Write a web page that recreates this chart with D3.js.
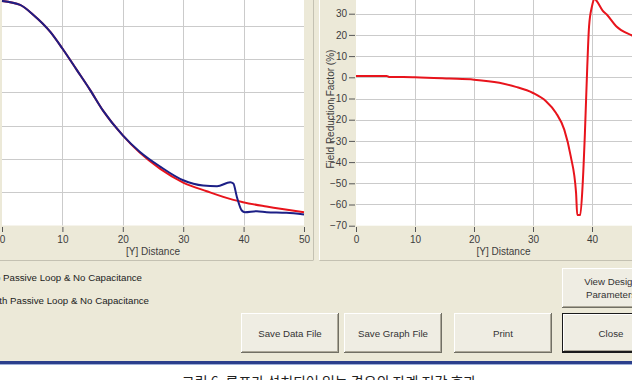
<!DOCTYPE html>
<html>
<head>
<meta charset="utf-8">
<script src="https://cdn.jsdelivr.net/npm/d3@7"></script>
<style>
  body { margin: 0; background: #ece9d8; overflow: hidden; }
  text { font-family: "Liberation Sans", Arial, sans-serif; }
  .tick text { fill: #3c3c3c; font-size: 10px; }
  .tick line { stroke: #555; }
</style>
</head>
<body>
<div id="app"></div>
<script>
// Set values for SVG wrapper
var svgWidth = 632;
var svgHeight = 380;

// ---- data ----
// left plot: field vs [Y] distance (left axis is off-screen)
var noLoopX = [0, 3, 5.2, 8, 10, 12.4, 14.6, 16.7, 20, 22.8, 26.2, 30, 33.9, 38.3, 39.9, 43.8, 50];
var noLoopY = [6.75, 6.63, 6.33, 5.82, 5.32, 4.67, 4.07, 3.46, 2.71, 2.19, 1.70, 1.29, 1.03, 0.77, 0.70, 0.57, 0.40];

var withLoopX = [0, 3, 5.2, 8, 10, 12.4, 14.6, 16.7, 20, 22.8, 26.2, 30, 33.3, 35.6, 37.8, 38.3, 38.9, 39.7, 40.2, 42.2, 43.8, 47.1, 50];
var withLoopY = [6.75, 6.63, 6.33, 5.82, 5.32, 4.67, 4.07, 3.46, 2.71, 2.22, 1.77, 1.36, 1.20, 1.18, 1.30, 1.26, 0.85, 0.45, 0.40, 0.43, 0.40, 0.38, 0.33];

// right plot: field reduction factor (%)
var frfX = [0, 5.2, 5.6, 10, 15.8, 20, 24.3, 27.1, 30, 32.2, 33.9, 35.3, 36.4, 37.3, 37.5, 38.0, 38.4, 38.8, 39.2, 39.5, 40.0, 40.4, 40.8, 41.8, 42.5, 44.1, 46.8, 48.5, 50];
var frfY = [0.6, 0.6, 0.2, 0, -0.6, -1.1, -2.6, -4.5, -7.4, -11.3, -16.8, -24.7, -37.3, -54.5, -65, -65, -51.4, -26.2, 5.2, 24, 33.5, 37, 36, 31.5, 29.6, 24.1, 19.7, 17.5, 16];

var xTicks = [0, 10, 20, 30, 40, 50];
var leftYTicks = [0, 1, 2, 3, 4, 5, 6, 7];
var rightYTicks = [-70, -60, -50, -40, -30, -20, -10, 0, 10, 20, 30, 40];

var legendLabels = ["No Passive Loop & No Capacitance", "With Passive Loop & No Capacitance"];
var buttonLabels = ["Save Data File", "Save Graph File", "Print", "Close"];
var caption = "그림 6. 루프가 설치되어 있는 경우의 자계 저감 효과";

var red = "#e8141c";
var blue = "#1c1f86";

var svg = d3.select("#app")
  .append("svg")
  .attr("width", svgWidth)
  .attr("height", svgHeight);

// window background
svg.append("rect")
  .attr("width", svgWidth)
  .attr("height", svgHeight)
  .attr("fill", "#ece9d8");

// panel frames
svg.append("line").attr("x1", 313.5).attr("x2", 313.5).attr("y1", 0).attr("y2", 260).attr("stroke", "#c4c1b2");
svg.append("line").attr("x1", 0).attr("x2", 313.5).attr("y1", 260.5).attr("y2", 260.5).attr("stroke", "#c4c1b2");
svg.append("line").attr("x1", 319.5).attr("x2", 319.5).attr("y1", 0).attr("y2", 260).attr("stroke", "#ffffff");
svg.append("line").attr("x1", 319.5).attr("x2", svgWidth).attr("y1", 260.5).attr("y2", 260.5).attr("stroke", "#c4c1b2");

// ---------- left plot ----------
var xL = d3.scaleLinear().domain([0, 50]).range([2, 304]);
var yL = d3.scaleLinear().domain([0, 7]).range([225.5, -7.4]);

var leftG = svg.append("g");

leftG.append("rect")
  .attr("x", xL(0))
  .attr("y", yL(7))
  .attr("width", xL(50) - xL(0))
  .attr("height", yL(0) - yL(7))
  .attr("fill", "#ffffff");

leftG.append("g")
  .selectAll("line")
  .data(leftYTicks.slice(1))
  .enter()
  .append("line")
  .attr("x1", xL(0))
  .attr("x2", xL(50))
  .attr("y1", d => Math.round(yL(d)) + 0.5)
  .attr("y2", d => Math.round(yL(d)) + 0.5)
  .attr("stroke", "#cbcbcb");

leftG.append("g")
  .selectAll("line")
  .data(xTicks.slice(1, -1))
  .enter()
  .append("line")
  .attr("x1", d => Math.round(xL(d)) + 0.5)
  .attr("x2", d => Math.round(xL(d)) + 0.5)
  .attr("y1", yL(7))
  .attr("y2", yL(0))
  .attr("stroke", "#cbcbcb");

var lineL = d3.line()
  .x(d => xL(d[0]))
  .y(d => yL(d[1]))
  .curve(d3.curveMonotoneX);

leftG.append("path")
  .datum(d3.zip(noLoopX, noLoopY))
  .attr("d", lineL)
  .attr("fill", "none")
  .attr("stroke", red)
  .attr("stroke-width", 2);

leftG.append("path")
  .datum(d3.zip(withLoopX, withLoopY))
  .attr("d", lineL)
  .attr("fill", "none")
  .attr("stroke", blue)
  .attr("stroke-width", 2);

var leftXAxis = leftG.append("g")
  .attr("transform", "translate(0, 227)")
  .call(d3.axisBottom(xL).tickValues(xTicks).tickSize(5).tickPadding(4));
leftXAxis.select(".domain").remove();

leftG.append("text")
  .attr("x", (xL(0) + xL(50)) / 2)
  .attr("y", 255)
  .attr("text-anchor", "middle")
  .style("font-size", "10px")
  .attr("fill", "#3c3c3c")
  .text("[Y] Distance");

// ---------- right plot ----------
var xR = d3.scaleLinear().domain([0, 50]).range([356, 651]);
var yR = d3.scaleLinear().domain([-70, 40]).range([225.7, -7.5]);

var rightG = svg.append("g");

rightG.append("rect")
  .attr("x", xR(0))
  .attr("y", yR(40))
  .attr("width", xR(50) - xR(0))
  .attr("height", yR(-70) - yR(40))
  .attr("fill", "#ffffff");

rightG.append("g")
  .selectAll("line")
  .data(rightYTicks.slice(1))
  .enter()
  .append("line")
  .attr("x1", xR(0))
  .attr("x2", xR(50))
  .attr("y1", d => Math.round(yR(d)) + 0.5)
  .attr("y2", d => Math.round(yR(d)) + 0.5)
  .attr("stroke", "#cbcbcb");

rightG.append("g")
  .selectAll("line")
  .data(xTicks.slice(1, -1))
  .enter()
  .append("line")
  .attr("x1", d => Math.round(xR(d)) + 0.5)
  .attr("x2", d => Math.round(xR(d)) + 0.5)
  .attr("y1", yR(40))
  .attr("y2", yR(-70))
  .attr("stroke", "#cbcbcb");

var lineR = d3.line()
  .x(d => xR(d[0]))
  .y(d => yR(d[1]))
  .curve(d3.curveMonotoneX);

rightG.append("path")
  .datum(d3.zip(frfX, frfY))
  .attr("d", lineR)
  .attr("fill", "none")
  .attr("stroke", red)
  .attr("stroke-width", 2);

// the 50 tick of the right plot falls outside the window, so it is left out
var rightXAxis = rightG.append("g")
  .attr("transform", "translate(0, 227)")
  .call(d3.axisBottom(xR).tickValues(xTicks.slice(0, -1)).tickSize(5).tickPadding(4));
rightXAxis.select(".domain").remove();

var rightYAxis = rightG.append("g")
  .attr("transform", "translate(355, 0)")
  .call(d3.axisLeft(yR).tickValues(rightYTicks.slice(0, -1)).tickSize(6).tickPadding(2));
rightYAxis.select(".domain").remove();

rightG.append("text")
  .attr("x", (xR(0) + xR(50)) / 2)
  .attr("y", 255)
  .attr("text-anchor", "middle")
  .style("font-size", "10px")
  .attr("fill", "#3c3c3c")
  .text("[Y] Distance");

rightG.append("text")
  .attr("transform", "rotate(-90)")
  .attr("x", -(yR(40) + yR(-70)) / 2)
  .attr("y", 334)
  .attr("text-anchor", "middle")
  .style("font-size", "10px")
  .attr("fill", "#3c3c3c")
  .text("Field Reduction Factor (%)");

// ---------- legend (partly off the left edge, as in the window) ----------
svg.append("g")
  .selectAll("text")
  .data(legendLabels)
  .enter()
  .append("text")
  .attr("x", -12)
  .attr("y", (d, i) => 281 + i * 23)
  .style("font-size", "9.7px")
  .attr("fill", "#222")
  .text(d => d);

// ---------- buttons ----------
function drawButton(x, y, w, h, lines, isDefault) {
  var g = svg.append("g").attr("transform", `translate(${x}, ${y})`);
  g.append("rect").attr("width", w).attr("height", h).attr("fill", isDefault ? "#1a1a1a" : "#716f64");
  var o = isDefault ? 1 : 0;
  g.append("rect").attr("x", o).attr("y", o).attr("width", w - 2 * o - 1).attr("height", h - 2 * o - 1).attr("fill", "#ffffff");
  g.append("rect").attr("x", o + 1).attr("y", o + 1).attr("width", w - 2 * o - 2).attr("height", h - 2 * o - 2).attr("fill", "#aca899");
  g.append("rect").attr("x", o + 1).attr("y", o + 1).attr("width", w - 2 * o - 3).attr("height", h - 2 * o - 3).attr("fill", "#efede3");
  lines.forEach(function(t, i) {
    g.append("text")
      .attr("x", w / 2)
      .attr("y", h / 2 + 3.5 + (i - (lines.length - 1) / 2) * 13)
      .attr("text-anchor", "middle")
      .style("font-size", "9.7px")
      .attr("fill", "#333")
      .text(t);
  });
}

drawButton(562, 268, 98, 40, ["View Design", "Parameters"], false);
var btnX = [241, 344, 454, 562];
buttonLabels.forEach(function(label, i) {
  drawButton(btnX[i], 313, 98, 40, [label], label === "Close");
});

// ---------- bottom separator and caption ----------
svg.append("rect").attr("x", 0).attr("y", 361).attr("width", svgWidth).attr("height", 3).attr("fill", "#2b3f8c");
svg.append("rect").attr("x", 0).attr("y", 364).attr("width", svgWidth).attr("height", 1).attr("fill", "#9fb0d8");
svg.append("rect").attr("x", 0).attr("y", 365).attr("width", svgWidth).attr("height", 15).attr("fill", "#ffffff");

svg.append("text")
  .attr("x", 329)
  .attr("y", 387)
  .attr("text-anchor", "middle")
  .style("font-family", "'Noto Sans CJK KR', sans-serif")
  .style("font-size", "14px")
  .attr("fill", "#222")
  .text(caption);
</script>
</body>
</html>
